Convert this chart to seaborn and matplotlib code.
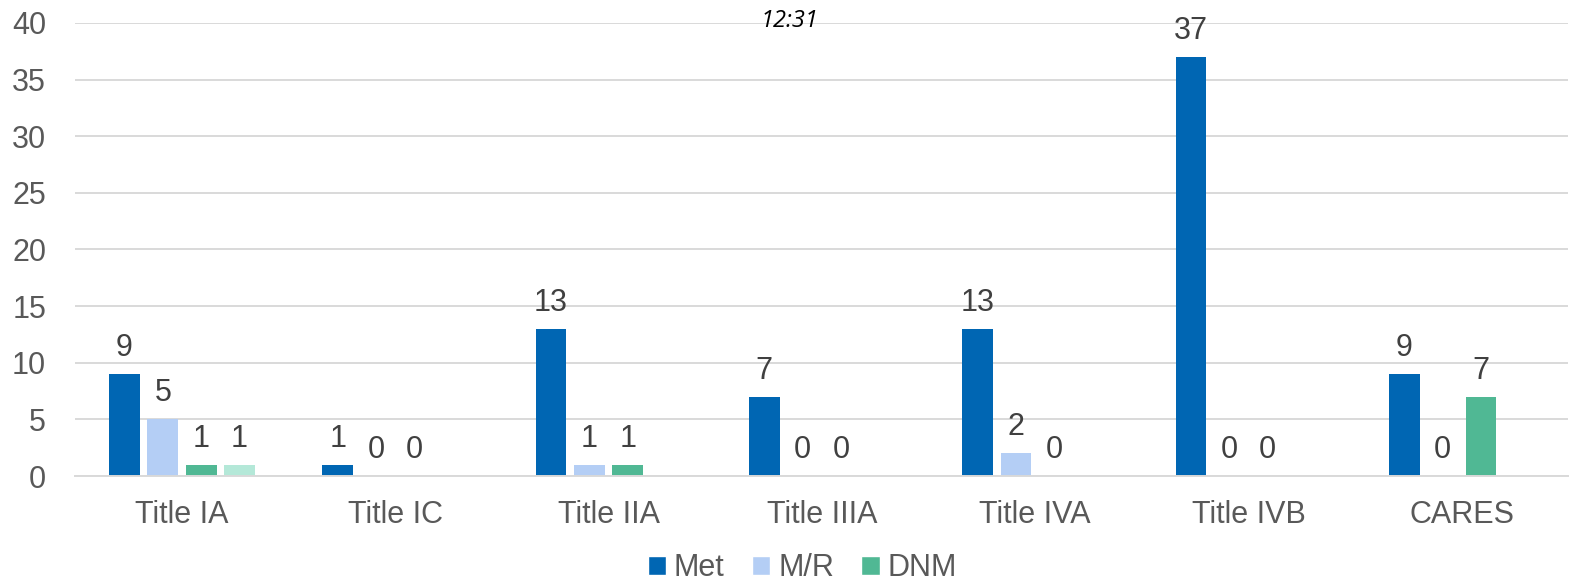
import matplotlib
matplotlib.use("Agg")
import matplotlib.pyplot as plt
import seaborn as sns
import pandas as pd
import numpy as np
from matplotlib.patches import Patch

categories = ["Title IA", "Title IC", "Title IIA", "Title IIIA", "Title IVA", "Title IVB", "CARES"]
met = [9, 1, 13, 7, 13, 37, 9]
mr = [5, 0, 1, 0, 2, 0, 0]
dnm = [1, 0, 1, 0, 0, 0, 7]
extra = [1, None, None, None, None, None, None]
series_names = ["Met", "M/R", "DNM", "Other"]
colors = ["#0066B3", "#B4CEF5", "#50B894", "#B4E8D8"]
yticks = [0, 5, 10, 15, 20, 25, 30, 35, 40]

rows = []
for name, vals in zip(series_names, [met, mr, dnm, extra]):
    for c, v in zip(categories, vals):
        if v is not None:
            rows.append({"cat": c, "series": name, "value": v})
df = pd.DataFrame(rows)

sns.set_style("white")
plt.rcParams["font.family"] = ["Liberation Sans", "DejaVu Sans"]

fig = plt.figure(figsize=(15.70, 5.87), dpi=100)
ax = fig.add_axes([0.048, 0.189, 0.951, 0.772])

sns.barplot(data=df, x="cat", y="value", hue="series", order=categories,
            hue_order=series_names, palette=colors, width=0.72, gap=0.2,
            errorbar=None, ax=ax, legend=False, saturation=1, linewidth=0)

for cont in ax.containers:
    ax.bar_label(cont, fmt="%g", padding=8, fontsize=22, color="#404040")

ax.set_ylim(0, 40)
ax.set_xlim(-0.5, len(categories) - 0.5)
ax.set_yticks(yticks)
ax.yaxis.grid(True, color="#d9d9d9", linewidth=1.4)
ax.set_axisbelow(True)
for s in ["top", "right", "left"]:
    ax.spines[s].set_visible(False)
ax.spines["bottom"].set_color("#d9d9d9")
ax.spines["bottom"].set_linewidth(1.4)
ax.tick_params(axis="y", length=0, pad=21, labelsize=22, labelcolor="#595959")
ax.tick_params(axis="x", length=0, pad=17, labelsize=22, labelcolor="#595959")
ax.set_xlabel("")
ax.set_ylabel("")

handles = [Patch(facecolor=c, label=n) for c, n in zip(colors[:3], series_names[:3])]
fig.legend(handles=handles, loc="lower center", bbox_to_anchor=(0.511, -0.04), ncol=3,
           frameon=False, fontsize=22, handlelength=0.6, handleheight=0.6,
           handletextpad=0.25, columnspacing=0.9, labelcolor="#595959")

fig.text(0.503, 0.965, "12:31", fontsize=17, style="italic", color="black",
         ha="center", va="center", family=["Open Sans", "DejaVu Sans"])

fig.savefig("out.png", dpi=100)
